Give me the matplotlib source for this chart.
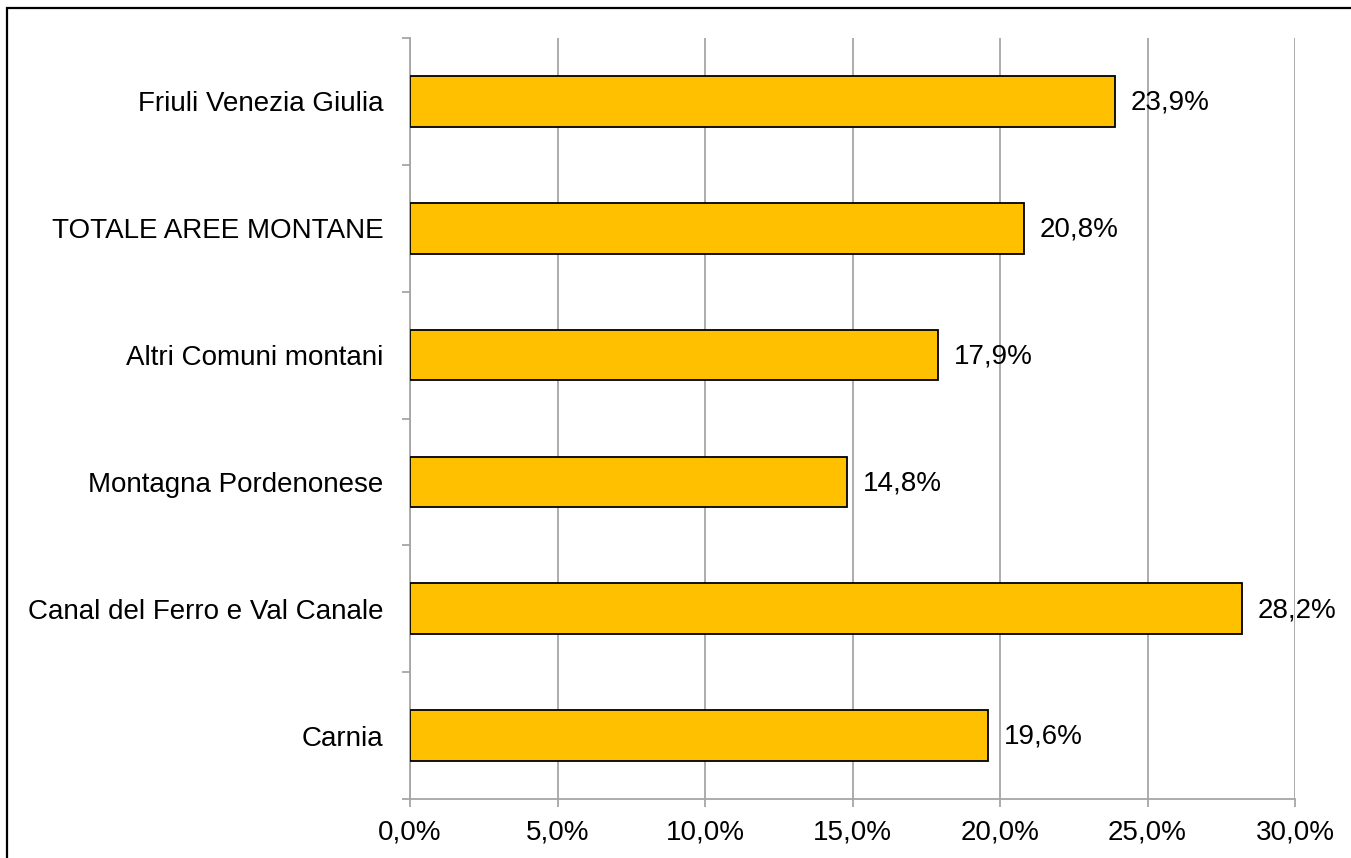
import matplotlib.pyplot as plt
import matplotlib.patches as mpatches
import numpy as np

plt.rcParams['font.family'] = ['Liberation Sans', 'DejaVu Sans']

# dati (dal basso verso l'alto)
aree = ['Carnia', 'Canal del Ferro e Val Canale', 'Montagna Pordenonese',
        'Altri Comuni montani', 'TOTALE AREE MONTANE', 'Friuli Venezia Giulia']
valori = [19.6, 28.2, 14.8, 17.9, 20.8, 23.9]
tick_x = [0, 5, 10, 15, 20, 25, 30]

fig = plt.figure(figsize=(13.51, 8.58), dpi=100)
ax = fig.add_axes([410 / 1351, 1 - 799 / 858, 885 / 1351, 761 / 858])

y = np.arange(len(aree))
ax.barh(y, valori, height=0.4, color='#FFC000', edgecolor='black', linewidth=1.3, zorder=3)

for yi, v in zip(y, valori):
    ax.annotate(f'{v:.1f}%'.replace('.', ','), (v, yi), xytext=(11.5, -1),
                textcoords='offset points', va='center', ha='left', fontsize=20, zorder=4)

ax.set_xlim(0, 30)
ax.set_ylim(-0.5, len(aree) - 0.5)
ax.set_xticks(tick_x)
ax.set_xticklabels([f'{t:.1f}%'.replace('.', ',') for t in tick_x], fontsize=20)
ax.xaxis.grid(True, color='#A6A6A6', linewidth=1.3, zorder=0)

ax.set_yticks(y)
ax.set_yticklabels(aree, fontsize=20)
ax.tick_params(axis='y', which='major', length=0, pad=19)
ax.set_yticks(np.arange(-0.5, len(aree), 1), minor=True)
ax.tick_params(axis='y', which='minor', length=6, color='#A6A6A6', width=1.3, direction='out')
ax.tick_params(axis='x', length=6, color='#A6A6A6', width=1.3, pad=9)

for s in ['top', 'right']:
    ax.spines[s].set_visible(False)
for s in ['left', 'bottom']:
    ax.spines[s].set_color('#A6A6A6')
    ax.spines[s].set_linewidth(1.3)

# cornice esterna
fig.patches.append(mpatches.Rectangle((7 / 1351, -0.02), 1.1, 1 - 8 / 858 + 0.02,
                                      transform=fig.transFigure, fill=False,
                                      edgecolor='black', linewidth=1.6))

fig.savefig('out.png', dpi=100)
